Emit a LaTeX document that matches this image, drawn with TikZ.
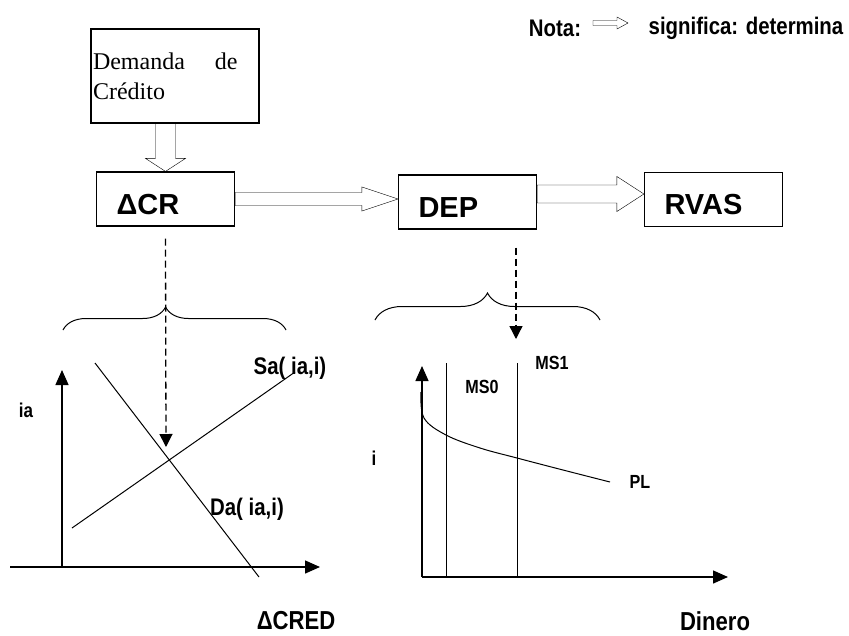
\documentclass[tikz,border=0pt]{standalone}
\usepackage{fontspec}
\setmainfont{Liberation Serif}
\setsansfont{Liberation Sans}
\newfontfamily\notafont[FakeStretch=0.85]{Liberation Sans}
\usetikzlibrary{calc, arrows.meta, decorations.pathreplacing}

\tikzset{
    caja/.style={draw, line width=1.2pt, text width=98pt, inner xsep=20pt,
        minimum height=54pt, align=left, text height=30pt, text depth=0pt,
        font=\sffamily\bfseries\fontsize{29}{31}\selectfont},
    etiq/.style={font=\notafont\bfseries\fontsize{#1}{#1}\selectfont},
    eje/.style={line width=1.4pt, -{Triangle[length=15pt, width=13pt]}},
    flechapunt/.style={line width=1.3pt, dash pattern=on 7pt off 4pt,
        -{Triangle[length=13pt, width=13pt]}},
    llave/.style={line width=1pt, decorate,
        decoration={brace, amplitude=#1}},
    hueca/.style n args={3}{line width=1.2pt, to path={
        ($(\tikztotarget)!#3!(\tikztostart)$) coordinate (hb)
        ($(\tikztostart)!#1!90:(\tikztotarget)$) -- ($(hb)!#1!90:(\tikztotarget)$)
        -- ($(hb)!#2!90:(\tikztotarget)$) -- (\tikztotarget)
        -- ($(hb)!#2!-90:(\tikztotarget)$) -- ($(hb)!#1!-90:(\tikztotarget)$)
        -- ($(\tikztostart)!#1!-90:(\tikztotarget)$) -- cycle}}
}

\begin{document}
\begin{tikzpicture}[x=1pt, y=1pt]
    \useasboundingbox (0,0) rectangle (849,-635);

    % 1. Nota
    \node[etiq=24] (nota) at (555,-28) {Nota:};
    \node[etiq=24] (signif) at (746,-28) {significa: determina};
    \coordinate (nini) at (593,-23);
    \coordinate (nfin) at (628,-23);
    \draw (nini) to[hueca={2.5pt}{6pt}{11pt}] (nfin);

    % 2. Cajas
    \node[draw, line width=1.2pt, text width=164pt, inner xsep=2pt, minimum height=94pt,
        align=left, font=\fontsize{24}{30}\selectfont] (dem) at (175,-76)
        {Demanda\hspace{30pt}de\\Crédito};
    \node[caja] (dcr) at (165.5,-199) {ΔCR};
    \node[caja] (dep) at (467.5,-202) {DEP};
    \node[caja] (rvas) at (713.5,-199.5) {RVAS};

    % 3. Flechas huecas (determina)
    \coordinate (d1) at (dem.south -| dcr.north);
    \coordinate (d2) at (dcr.east -| dep.west);
    \coordinate (d3) at ([yshift=8pt]dep.east);
    \coordinate (d4) at (d3 -| rvas.west);
    \draw (d1) to[hueca={10pt}{20pt}{13pt}] (dcr.north);
    \draw (dcr.east) to[hueca={6.5pt}{12pt}{36pt}] (d2);
    \draw (d3) to[hueca={9pt}{17.5pt}{27pt}] (d4);

    % 4. Flechas punteadas y llaves
    \coordinate (eq) at (166,-447);
    \coordinate (depin) at (516,-339);
    \draw[flechapunt] ([yshift=-12pt]dcr.south) -- (eq);
    \draw[flechapunt] ([xshift=48.5pt,yshift=-18pt]dep.south) -- (depin);
    \draw[llave=23pt, decoration={aspect=0.46}] (63,-330) -- (286,-330);
    \draw[llave=27pt] (375,-320) -- (600,-320);

    % 5. Grafico de credito
    \draw[eje] (62,-567) -- (62,-370);
    \draw[eje] (10,-567) -- (320,-567);
    \draw[line width=1pt] (72,-528) -- (295,-372);
    \draw[line width=1pt] (95,-363) -- (259,-577);
    \node[etiq=20] (ia) at (26,-410) {ia};
    \node[etiq=24] (sa) at (290,-368) {Sa( ia,i)};
    \node[etiq=24] (da) at (247,-509) {Da( ia,i)};
    \node[etiq=26] (dcred) at (296,-621) {ΔCRED};

    % 6. Grafico de dinero
    \draw[eje] (422,-577) -- (422,-366);
    \draw[eje] (422,-577) -- (728,-577);
    \draw[line width=1pt] (446,-363) -- (446,-577);
    \draw[line width=1pt] (517,-363) -- (517,-577);
    \draw[line width=1pt] plot[smooth, tension=0.6] coordinates
        {(421,-392) (424,-418) (446,-435) (480,-448) (517,-458) (563,-470) (610,-482)};
    \node[etiq=19] (ms0) at (482,-387) {MS0};
    \node[etiq=19] (ms1) at (552,-363) {MS1};
    \node[etiq=19] (pl) at (640,-482) {PL};
    \node[etiq=20] (ii) at (374,-458) {i};
    \node[etiq=26] (din) at (715,-621) {Dinero};

\end{tikzpicture}
\end{document}
